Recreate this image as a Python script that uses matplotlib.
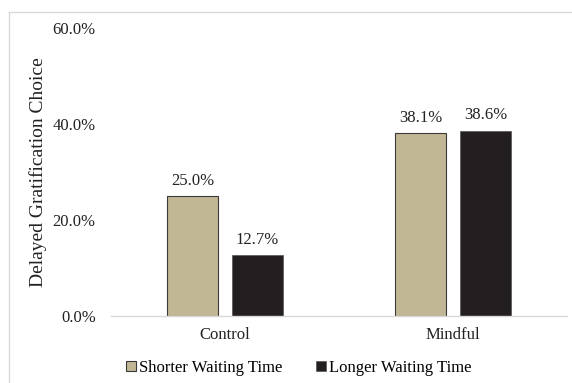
import matplotlib
matplotlib.use("Agg")
import matplotlib.pyplot as plt
import numpy as np
from matplotlib.lines import Line2D
from matplotlib.patches import Patch

categories = ["Control", "Mindful"]
series_names = ["Shorter Waiting Time", "Longer Waiting Time"]
shorter = [25.0, 38.1]
longer = [12.7, 38.6]
yticks = [0, 20, 40, 60]

plt.rcParams['font.family'] = ['Liberation Serif', 'DejaVu Serif']

fig = plt.figure(figsize=(5.72, 3.83), dpi=100)
ax = fig.add_axes([111/572, 0.175, 456/572, 0.752])

x = np.arange(len(categories))
w = 0.224
off = 0.143
c1 = "#C2B794"
c2 = "#231F20"
b1 = ax.bar(x - off, shorter, w, color=c1, edgecolor="#3a3a3a", linewidth=0.8)
b2 = ax.bar(x + off, longer, w, color=c2, edgecolor="#555555", linewidth=0.5)

for bars, vals in ((b1, shorter), (b2, longer)):
    for b, v in zip(bars, vals):
        ax.text(b.get_x() + b.get_width() / 2, v + 1.5, f"{v:.1f}%",
                ha="center", va="bottom", fontsize=12, color="#222222")

ax.set_xlim(-0.5, 1.5)
ax.set_ylim(0, 60)
ax.set_yticks(yticks)
ax.set_yticklabels([f"{t:.1f}%" for t in yticks], fontsize=12, color="#222222")
ax.set_xticks(x)
ax.set_xticklabels(categories, fontsize=12, color="#222222")
ax.tick_params(axis="both", length=0)
ax.tick_params(axis="x", pad=8)
ax.tick_params(axis="y", pad=11)
for s in ["top", "right", "left"]:
    ax.spines[s].set_visible(False)
ax.spines["bottom"].set_color("#d9d9d9")
ax.spines["bottom"].set_linewidth(1.0)
ax.set_ylabel("Delayed Gratification Choice", fontsize=14, color="#222222")
ax.yaxis.set_label_coords(-0.160, 0.5)
ax.yaxis.label.set_va("center")

handles = [Patch(facecolor=c1, edgecolor="#3a3a3a", linewidth=0.8),
           Patch(facecolor=c2, edgecolor="#555555", linewidth=0.5)]
fig.legend(handles, series_names, loc="center", bbox_to_anchor=(0.522, 0.040),
           ncol=2, frameon=False, fontsize=12, handlelength=0.6, handleheight=0.6,
           handletextpad=0.2, columnspacing=2.0)

# outer frame
fig.add_artist(Line2D([9/572, 9/572], [0, 1 - 11.5/383], transform=fig.transFigure,
                      color="#d9d9d9", linewidth=1.0))
fig.add_artist(Line2D([9/572, 1], [1 - 11.5/383, 1 - 11.5/383], transform=fig.transFigure,
                      color="#d9d9d9", linewidth=1.0))

fig.savefig("out.png", dpi=100)
